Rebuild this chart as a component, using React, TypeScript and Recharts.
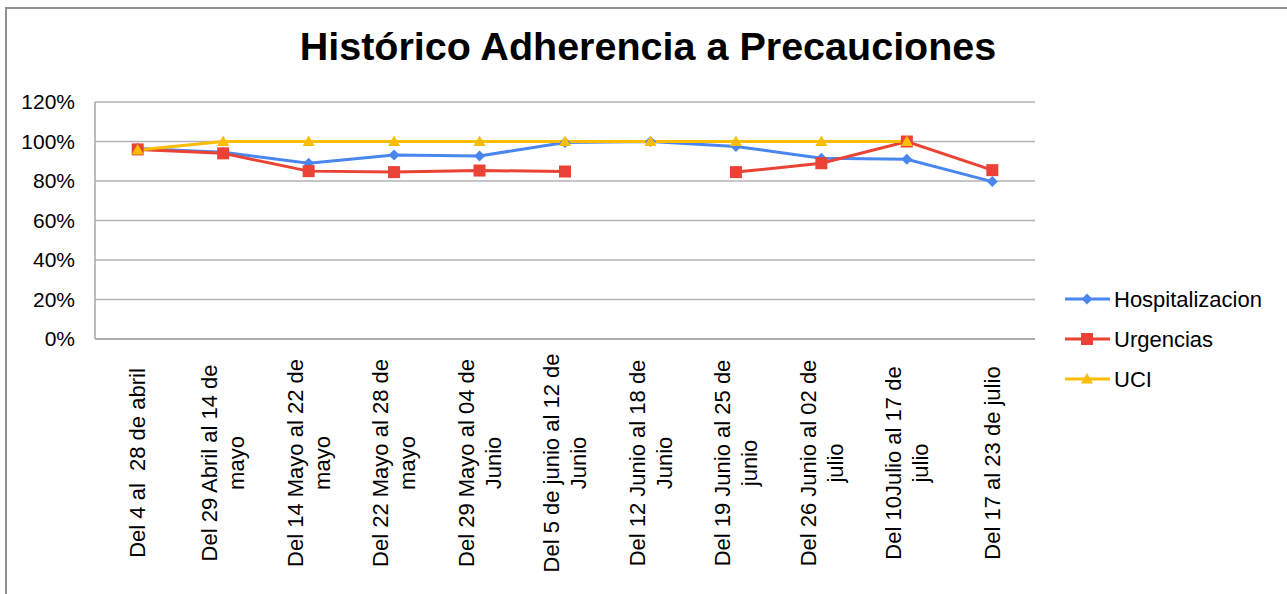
import { LineChart, Line, XAxis, YAxis, CartesianGrid } from 'recharts';

const categories = [
  'Del 4 al  28 de abril',
  'Del 29 Abril al 14 de\nmayo',
  'Del 14 Mayo al 22 de\nmayo',
  'Del 22 Mayo al 28 de\nmayo',
  'Del 29 Mayo al 04 de\nJunio',
  'Del 5 de junio al 12 de\nJunio',
  'Del 12 Junio al 18 de\nJunio',
  'Del 19 Junio al 25 de\njunio',
  'Del 26 Junio al 02 de\njulio',
  'Del 10Julio al 17 de\njulio',
  'Del 17 al 23 de julio',
];

const hospitalizacion = [0.965, 0.945, 0.89, 0.932, 0.927, 0.995, 1.0, 0.975, 0.915, 0.91, 0.797];
const urgencias = [0.96, 0.94, 0.85, 0.845, 0.853, 0.848, null, 0.845, 0.89, 1.0, 0.855];
const uci = [0.957, 1.0, 1.0, 1.0, 1.0, 1.0, 1.0, 1.0, 1.0, 1.0, null];

const yTicks = [0, 0.2, 0.4, 0.6, 0.8, 1.0, 1.2];

const data = categories.map((name, i) => ({
  name,
  Hospitalizacion: hospitalizacion[i],
  Urgencias: urgencias[i],
  UCI: uci[i],
}));

const FONT = '"Liberation Sans", Arial, sans-serif';
const BLUE = '#4a86f0';
const RED = '#ea4335';
const YELLOW = '#fbbc04';

function Marker({ shape, cx, cy, color }: { shape: string; cx: number; cy: number; color: string }) {
  if (shape === 'diamond') {
    const r = 5.5;
    return <path d={`M${cx},${cy - r}L${cx + r},${cy}L${cx},${cy + r}L${cx - r},${cy}Z`} fill={color} />;
  }
  if (shape === 'square') {
    const r = 6;
    return <rect x={cx - r} y={cy - r} width={2 * r} height={2 * r} fill={color} />;
  }
  const r = 6;
  return <path d={`M${cx},${cy - r}L${cx + r},${cy + r * 0.75}L${cx - r},${cy + r * 0.75}Z`} fill={color} />;
}

const makeDot = (shape: string, color: string) => (props: any) => {
  const { cx, cy, index, value } = props;
  if (cx == null || cy == null || value == null || Number.isNaN(cy)) return <g key={`d-${index}`} />;
  return (
    <g key={`d-${index}`}>
      <Marker shape={shape} cx={cx} cy={cy} color={color} />
    </g>
  );
};

const XTick = (props: any) => {
  const { x, payload } = props;
  const lines = String(payload.value).split('\n');
  const fs = 22;
  const lh = 27;
  const centerY = 463;
  return (
    <g transform={`translate(${x},${centerY}) rotate(-90)`}>
      <text textAnchor="middle" fontSize={fs} fill="#000" fontFamily={FONT} style={{ whiteSpace: 'pre' }}>
        {lines.map((l, i) => (
          <tspan key={i} x={0} dy={i === 0 ? -((lines.length - 1) * lh) / 2 + fs * 0.35 : lh}>
            {l}
          </tspan>
        ))}
      </text>
    </g>
  );
};

const legendItems = [
  { name: 'Hospitalizacion', color: BLUE, shape: 'diamond' },
  { name: 'Urgencias', color: RED, shape: 'square' },
  { name: 'UCI', color: YELLOW, shape: 'triangle' },
];

const ChartLegend = () => (
  <svg style={{ position: 'absolute', left: 1063, top: 280 }} width={220} height={120}>
    {legendItems.map((it, i) => {
      const y = 19 + i * 40;
      return (
        <g key={it.name}>
          <line x1={2} x2={47} y1={y} y2={y} stroke={it.color} strokeWidth={3} />
          <Marker shape={it.shape} cx={24} cy={y} color={it.color} />
          <text x={51} y={y + 8} fontSize={22} fontFamily={FONT} fill="#000">
            {it.name}
          </text>
        </g>
      );
    })}
  </svg>
);

export default function App() {
  return (
    <div style={{ position: 'absolute', left: 0, top: 0, width: 1287, height: 594, background: '#fff', overflow: 'hidden' }}>
      <div
        style={{
          position: 'absolute',
          left: 5,
          top: 7,
          width: 1300,
          height: 600,
          borderTop: '2px solid #8f8f8f',
          borderLeft: '2px solid #8f8f8f',
        }}
      />
      <svg style={{ position: 'absolute', left: 0, top: 0 }} width={1287} height={100}>
        <text x={648} y={60} textAnchor="middle" fontSize={39.5} fontWeight="bold" fontFamily={FONT} fill="#000">
          Histórico Adherencia a Precauciones
        </text>
      </svg>
      <div style={{ position: 'absolute', left: 0, top: 0 }}>
        <LineChart width={1287} height={594} data={data} margin={{ top: 102, right: 252, left: 0, bottom: 5 }}>
          <CartesianGrid vertical={false} stroke="#b3b3b3" strokeWidth={1.3} />
          <XAxis
            dataKey="name"
            interval={0}
            height={250}
            padding={{ left: 42.7, right: 42.7 }}
            tickLine={false}
            axisLine={{ stroke: '#a6a6a6', strokeWidth: 1.5 }}
            tick={<XTick />}
          />
          <YAxis
            width={95}
            domain={[0, 1.2]}
            ticks={yTicks}
            tickFormatter={(v: number) => `${Math.round(v * 100)}%`}
            tickLine={false}
            tickMargin={14}
            axisLine={{ stroke: '#a6a6a6', strokeWidth: 1.5 }}
            tick={{ fontSize: 21, fill: '#000', fontFamily: FONT }}
          />
          <Line
            dataKey="Hospitalizacion"
            stroke={BLUE}
            strokeWidth={3}
            isAnimationActive={false}
            dot={makeDot('diamond', BLUE)}
            activeDot={false}
          />
          <Line
            dataKey="Urgencias"
            stroke={RED}
            strokeWidth={3}
            isAnimationActive={false}
            dot={makeDot('square', RED)}
            activeDot={false}
          />
          <Line
            dataKey="UCI"
            stroke={YELLOW}
            strokeWidth={3}
            isAnimationActive={false}
            dot={makeDot('triangle', YELLOW)}
            activeDot={false}
          />
        </LineChart>
      </div>
      <ChartLegend />
    </div>
  );
}
